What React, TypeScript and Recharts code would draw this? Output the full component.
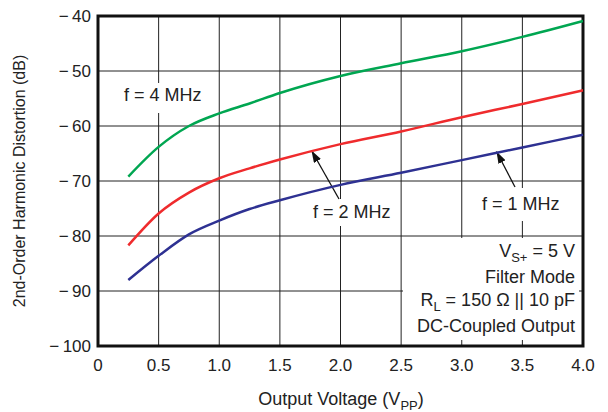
import React from 'react';
import { LineChart, Line, XAxis, YAxis, CartesianGrid, ReferenceArea } from 'recharts';

// output voltage (Vpp) where the curves were read
const voltage = [0.25, 0.5, 0.75, 1.0, 1.25, 1.5, 2.0, 2.5, 3.0, 3.5, 4.0];
// 2nd-order harmonic distortion (dB)
const hd2At4MHz = [-69.2, -63.8, -60.0, -57.7, -55.9, -54.0, -50.9, -48.6, -46.4, -43.8, -40.9];
const hd2At2MHz = [-81.7, -75.9, -72.1, -69.5, -67.7, -66.1, -63.3, -61.0, -58.4, -56.0, -53.5];
const hd2At1MHz = [-88.0, -83.6, -79.7, -77.2, -75.1, -73.5, -70.7, -68.5, -66.2, -63.9, -61.6];

const xTicks = [0, 0.5, 1.0, 1.5, 2.0, 2.5, 3.0, 3.5, 4.0];
const yTicks = [-100, -90, -80, -70, -60, -50, -40];

const data = voltage.map((v, i) => ({
  v,
  f4: hd2At4MHz[i],
  f2: hd2At2MHz[i],
  f1: hd2At1MHz[i],
}));

const font = '"Liberation Sans", Arial, Helvetica, sans-serif';

// labels, arrows and the white boxes that hide the grid behind them
function Notes() {
  return (
    <g fontFamily={font} fontSize={18} fill="#222">
      <defs>
        <marker id="head" markerWidth="12" markerHeight="8" refX="12" refY="4" orient="auto" markerUnits="userSpaceOnUse">
          <path d="M0,0 L12,4 L0,8 z" fill="#111" />
        </marker>
      </defs>
      <rect x={119} y={83} width={92} height={30} fill="#fff" />
      <rect x={307} y={199} width={92} height={27} fill="#fff" />
      <rect x={476} y={188} width={91} height={33} fill="#fff" />
      <rect x={403} y={238} width={176} height={102} fill="#fff" />

      <text x={124} y={101}>f = 4 MHz</text>
      <text x={313} y={218}>f = 2 MHz</text>
      <text x={482} y={210}>f = 1 MHz</text>

      <line x1={339} y1={199} x2={311.5} y2={150.5} stroke="#111" strokeWidth={1.3} markerEnd="url(#head)" />
      <line x1={515} y1={187} x2={496.5} y2={151.5} stroke="#111" strokeWidth={1.3} markerEnd="url(#head)" />

      <text x={575} y={257} textAnchor="end">
        V<tspan fontSize={13} dy={5}>S+</tspan><tspan dy={-5}> = 5 V</tspan>
      </text>
      <text x={575} y={283} textAnchor="end">Filter Mode</text>
      <text x={575} y={306} textAnchor="end">
        R<tspan fontSize={13} dy={5}>L</tspan><tspan dy={-5}> = 150 Ω || 10 pF</tspan>
      </text>
      <text x={575} y={332} textAnchor="end">DC-Coupled Output</text>

      <text x={341} y={405} textAnchor="middle">
        Output Voltage (V<tspan fontSize={13} dy={5}>PP</tspan><tspan dy={-5}>)</tspan>
      </text>
      <text x={25} y={181} fontSize={16} textAnchor="middle" transform="rotate(-90 25 181)">
        2nd-Order Harmonic Distortion (dB)
      </text>
    </g>
  );
}

export default function App() {
  return (
    <div style={{ position: 'absolute', left: 0, top: 0, background: '#fff' }}>
      <LineChart width={608} height={412} data={data} margin={{ top: 16, right: 25, left: 0, bottom: 0 }}>
        <CartesianGrid stroke="#222" strokeWidth={1} horizontalValues={yTicks} verticalValues={xTicks} />
        <XAxis
          dataKey="v"
          type="number"
          domain={[0, 4]}
          ticks={xTicks}
          height={66}
          tickSize={0}
          tickMargin={13}
          axisLine={false}
          tickFormatter={(v: number) => (v === 0 ? '0' : v.toFixed(1))}
          tick={{ fill: '#222', fontSize: 17, fontFamily: font }}
        />
        <YAxis
          type="number"
          domain={[-100, -40]}
          ticks={yTicks}
          width={98}
          tickSize={0}
          tickMargin={7}
          axisLine={false}
          tickFormatter={(v: number) => '\u2212\u2009' + Math.abs(v)}
          tick={{ fill: '#222', fontSize: 17, fontFamily: font }}
        />
        <Line dataKey="f4" type="monotone" stroke="#00a651" strokeWidth={2.5} dot={false} isAnimationActive={false} />
        <Line dataKey="f2" type="monotone" stroke="#ef2b2d" strokeWidth={2.5} dot={false} isAnimationActive={false} />
        <Line dataKey="f1" type="monotone" stroke="#2e3192" strokeWidth={2.5} dot={false} isAnimationActive={false} />
        <ReferenceArea x1={0} x2={4} y1={-100} y2={-40} fill="none" stroke="#111" strokeWidth={3} ifOverflow="visible" />
        <Notes />
      </LineChart>
    </div>
  );
}
